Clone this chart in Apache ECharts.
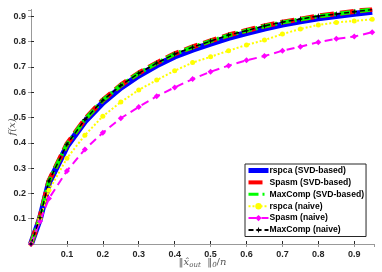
<!DOCTYPE html>
<html><head><meta charset="utf-8">
<script src="https://cdn.jsdelivr.net/npm/echarts@6/dist/echarts.min.js"></script>
<style>html,body{margin:0;padding:0;background:#fff}#c{width:382px;height:272px}</style>
</head><body><div id="c"></div>
<script>
const xVals = [0, 0.025, 0.05, 0.1, 0.15, 0.2, 0.25, 0.3, 0.35, 0.4, 0.45, 0.5, 0.55, 0.6, 0.65, 0.7, 0.75, 0.8, 0.85, 0.9, 0.95];
const rspcaSVD   = [0, 0.100, 0.242, 0.386, 0.484, 0.559, 0.618, 0.666, 0.706, 0.741, 0.768, 0.792, 0.815, 0.834, 0.852, 0.867, 0.880, 0.892, 0.901, 0.910, 0.918];
const spasmSVD   = [0, 0.105, 0.250, 0.395, 0.493, 0.569, 0.628, 0.676, 0.716, 0.752, 0.779, 0.803, 0.826, 0.844, 0.862, 0.877, 0.889, 0.901, 0.910, 0.919, 0.928];
const maxcompSVD = [0, 0.104, 0.249, 0.394, 0.492, 0.568, 0.627, 0.675, 0.715, 0.751, 0.778, 0.802, 0.825, 0.843, 0.861, 0.876, 0.888, 0.900, 0.909, 0.918, 0.927];
const rspcaNaive = [0, 0.100, 0.212, 0.339, 0.430, 0.505, 0.561, 0.609, 0.648, 0.685, 0.717, 0.740, 0.764, 0.787, 0.806, 0.830, 0.850, 0.866, 0.876, 0.882, 0.888];
const spasmNaive = [0, 0.090, 0.180, 0.289, 0.374, 0.440, 0.497, 0.542, 0.584, 0.619, 0.652, 0.681, 0.705, 0.726, 0.743, 0.764, 0.780, 0.798, 0.811, 0.820, 0.837];
const maxcompNaive = [0, 0.104, 0.249, 0.394, 0.492, 0.568, 0.627, 0.675, 0.715, 0.751, 0.778, 0.802, 0.826, 0.843, 0.862, 0.877, 0.889, 0.901, 0.909, 0.918, 0.927];
const seriesNames = ['rspca (SVD-based)', 'Spasm (SVD-based)', 'MaxComp (SVD-based)', 'rspca (naive)', 'Spasm (naive)', 'MaxComp (naive)'];
const tickValues = [0.1, 0.2, 0.3, 0.4, 0.5, 0.6, 0.7, 0.8, 0.9];

const pair = arr => xVals.map((x, i) => [x, arr[i]]);
const fmt = v => {
  for (const t of tickValues) if (Math.abs(v - t) < 1e-6) return t.toFixed(1);
  return '';
};
const axisCol = '#262626';
const labelStyle = { fontFamily: 'Liberation Sans, Arial', fontSize: 9, fontWeight: 'bold', color: axisCol };
const star = 'path://M0,-10 L2.5,-2.5 L10,0 L2.5,2.5 L0,10 L-2.5,2.5 L-10,0 L-2.5,-2.5 Z';

const chart = echarts.init(document.getElementById('c'), null, { renderer: 'canvas' });
chart.setOption({
  animation: false,
  backgroundColor: '#fff',
  grid: { left: 31, right: 8, top: 10, bottom: 28, containLabel: false, outerBoundsMode: 'none' },
  xAxis: [{
    type: 'value', min: 0, max: 0.955, interval: 0.1,
    axisLine: { show: true, lineStyle: { color: axisCol, width: 1 } },
    axisTick: { show: true, inside: true, length: 3, lineStyle: { color: axisCol } },
    splitLine: { show: false },
    axisLabel: { ...labelStyle, margin: 6, formatter: fmt, showMinLabel: false, showMaxLabel: false },
    name: '{n|‖}{i|x̂}{s|out}{n|  ‖}{s|0}{n|/}{i|n}',
    nameLocation: 'middle', nameGap: 12, nameMoveOverlap: false,
    nameTextStyle: {
      rich: {
        n: { fontFamily: 'DejaVu Serif', fontSize: 10, color: '#555' },
        i: { fontFamily: 'DejaVu Serif', fontStyle: 'italic', fontSize: 10, color: '#555' },
        s: { fontFamily: 'DejaVu Serif', fontStyle: 'italic', fontSize: 7, color: '#555', verticalAlign: 'bottom', padding: [6, 0, 0, 0] }
      }
    }
  }, {
    type: 'value', min: 0, max: 0.955, interval: 0.1, position: 'top',
    axisLine: { show: true, lineStyle: { color: '#999', width: 1 } },
    axisTick: { show: true, inside: true, length: 3, lineStyle: { color: '#999' } },
    axisLabel: { show: false }, splitLine: { show: false }
  }],
  yAxis: [{
    type: 'value', min: 0, max: 0.925, interval: 0.1,
    axisLine: { show: true, lineStyle: { color: axisCol, width: 1 } },
    axisTick: { show: true, inside: true, length: 3, lineStyle: { color: axisCol } },
    splitLine: { show: false },
    axisLabel: { ...labelStyle, margin: 5, formatter: fmt, showMinLabel: false, showMaxLabel: false },
    name: 'f(x)', nameLocation: 'middle', nameGap: 14, nameRotate: 90, nameMoveOverlap: false,
    nameTextStyle: { fontFamily: 'DejaVu Serif', fontStyle: 'italic', fontSize: 10, color: '#555' }
  }, {
    type: 'value', min: 0, max: 0.925, interval: 0.1, position: 'right',
    axisLine: { show: true, lineStyle: { color: '#999', width: 1 } },
    axisTick: { show: true, inside: true, length: 3, lineStyle: { color: '#999' } },
    axisLabel: { show: false }, splitLine: { show: false }
  }],
  legend: {
    orient: 'vertical', left: 245, top: 164,
    itemWidth: 20, itemHeight: 8, itemGap: 2.9,
    padding: [2, 2, 2, 1],
    borderColor: axisCol, borderWidth: 1, backgroundColor: '#fff',
    textStyle: { fontFamily: 'Liberation Sans, Arial', fontSize: 8.6, fontWeight: 'bold', color: '#000', lineHeight: 8, padding: [0, 0, 0, -4] },
    data: [
      { name: seriesNames[0], itemStyle: { opacity: 0 }, lineStyle: { width: 5 } },
      { name: seriesNames[1], itemStyle: { opacity: 0 }, lineStyle: { width: 4 } },
      { name: seriesNames[2], itemStyle: { opacity: 0 }, lineStyle: { width: 3 } },
      { name: seriesNames[3] },
      { name: seriesNames[4] },
      { name: seriesNames[5] }
    ]
  },
  series: [
    { name: seriesNames[0], type: 'line', data: pair(rspcaSVD), showSymbol: false, symbol: 'circle',
      lineStyle: { color: '#0000ff', width: 6 }, itemStyle: { color: '#0000ff' } },
    { name: seriesNames[1], type: 'line', data: pair(spasmSVD), showSymbol: false, symbol: 'circle',
      lineStyle: { color: '#ff0000', width: 5, type: [14, 6] }, itemStyle: { color: '#ff0000' } },
    { name: seriesNames[2], type: 'line', data: pair(maxcompSVD), showSymbol: false, symbol: 'circle',
      lineStyle: { color: '#00ff00', width: 4, type: [10, 4, 2, 4] }, itemStyle: { color: '#00ff00' } },
    { name: seriesNames[3], type: 'line', data: pair(rspcaNaive), symbol: 'circle', symbolSize: 5, showSymbol: true,
      lineStyle: { color: '#ffff00', width: 2, type: [2, 2] }, itemStyle: { color: '#ffff00' } },
    { name: seriesNames[4], type: 'line', data: pair(spasmNaive), symbol: 'diamond', symbolSize: 6, showSymbol: true,
      lineStyle: { color: '#ff00ff', width: 2, type: [8, 5] }, itemStyle: { color: '#ff00ff' } },
    { name: seriesNames[5], type: 'line', data: pair(maxcompNaive), symbol: star, symbolSize: 6, showSymbol: true,
      lineStyle: { color: '#000', width: 1.5, type: [5, 3] }, itemStyle: { color: '#000' } }
  ]
});
</script></body></html>
